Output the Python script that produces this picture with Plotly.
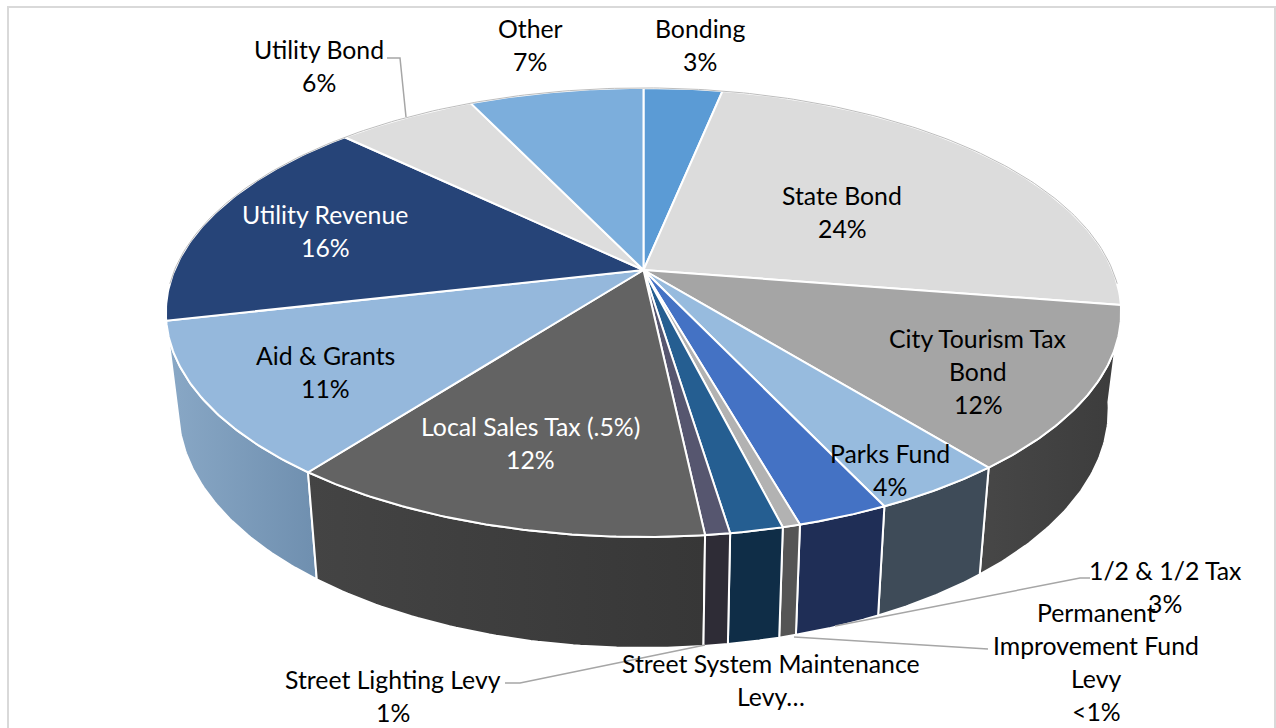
import numpy as np
import plotly.graph_objects as go

categories = ["Bonding", "State Bond", "City Tourism Tax Bond", "Parks Fund", "1/2 & 1/2 Tax",
              "Permanent Improvement Fund Levy", "Street System Maintenance Levy", "Street Lighting Levy",
              "Local Sales Tax (.5%)", "Aid & Grants", "Utility Revenue", "Utility Bond", "Other"]
values = [3.2, 24.3, 11.7, 3.8, 2.6, 0.5, 1.5, 0.7, 12.1, 11.0, 15.8, 5.7, 7.1]
top_colors = ["#5B9BD5", "#DCDCDC", "#A5A5A5", "#97BBDE", "#4472C4", "#B2B2B2", "#255E91",
              "#56566F", "#636363", "#95B8DC", "#264478", "#DDDDDD", "#7CAEDC"]
side_colors = [("#3F6F9A", "#3F6F9A"), ("#6E6E6E", "#6E6E6E"), ("#474747", "#3C3C3C"), ("#3E4B58", "#3E4B58"),
               ("#1F2E56", "#1F2E56"), ("#555555", "#555555"), ("#0F2D47", "#0F2D47"), ("#2E2C36", "#2E2C36"),
               ("#444444", "#373737"), ("#89A8C6", "#6F8FAF"), ("#1B3157", "#1B3157"), ("#9E9E9E", "#9E9E9E"),
               ("#587EA0", "#587EA0")]

label_lines = [(["Bonding", "3%"], 700, 28, "black"), (["Other", "7%"], 530, 28, "black"),
               (["Utility Bond", "6%"], 319, 49, "black"), (["State Bond", "24%"], 842, 195, "black"),
               (["City Tourism Tax", "Bond", "12%"], 978, 338, "black"), (["Parks Fund", "4%"], 890, 453, "black"),
               (["Local Sales Tax (.5%)", "12%"], 530, 426, "white"), (["Aid & Grants", "11%"], 325, 355, "black"),
               (["Utility Revenue", "16%"], 325, 214, "white"), (["Street Lighting Levy", "1%"], 393, 679, "black"),
               (["Street System Maintenance", "Levy…"], 771, 663, "black"), (["1/2 & 1/2 Tax", "3%"], 1165, 570, "black"),
               (["Permanent", "Improvement Fund", "Levy", "&lt;1%"], 1096, 612, "black")]
leaders = [([387, 400, 406], [58, 58, 117]), ([505, 520, 705], [683, 683, 645]),
           ([1090, 1080, 835], [578, 578, 626]), ([794, 988], [637, 649])]

# Projection of the tilted disc
CX, CY, A, B, K = 643.5, 270.0, 469.0, 216.5, 0.189
DEPTH, SX, SY = 95.0, 0.974, 1.06
LINE_STEP = 33

def top(theta):
    u, v = np.sin(theta), -np.cos(theta)
    w = 1 - K * v
    return CX + A * u / w, CY + B * v / w

def bottom(theta):
    x, y = top(theta)
    return CX + (x - CX) * SX, CY + DEPTH + (y - CY) * SY

fractions = np.cumsum([0] + values) / sum(values) * 2 * np.pi
fig = go.Figure()

# Sides first
order = sorted(range(len(values)), key=lambda i: abs(np.pi - (fractions[i] + fractions[i + 1]) / 2), reverse=True)
for i in order:
    t = np.linspace(fractions[i], fractions[i + 1], 60)
    xt, yt = top(t)
    xb, yb = bottom(t)
    c1, c2 = side_colors[i]
    x = np.r_[xt, xb[::-1], xt[0]]
    y = np.r_[yt, yb[::-1], yt[0]]
    kw = dict(fillgradient=dict(type="horizontal", colorscale=[[0, c1], [1, c2]])) if c1 != c2 else dict(fillcolor=c1)
    fig.add_trace(go.Scatter(x=x, y=y, mode="lines", fill="toself", line=dict(color="white", width=2),
                             hoverinfo="skip", showlegend=False, **kw))

# Top face
for i in range(len(values)):
    t = np.linspace(fractions[i], fractions[i + 1], 80)
    xt, yt = top(t)
    fig.add_trace(go.Scatter(x=np.r_[CX, xt, CX], y=np.r_[CY, yt, CY], mode="lines", fill="toself",
                             fillcolor=top_colors[i], line=dict(color="white", width=2),
                             hoverinfo="skip", showlegend=False, name=categories[i]))

# Fine rim along the back
t = np.linspace(-np.pi * 0.52, np.pi * 0.52, 200)
xt, yt = top(t)
fig.add_trace(go.Scatter(x=xt, y=yt, mode="lines", line=dict(color="#BDBDBD", width=1),
                         hoverinfo="skip", showlegend=False))

for lx, ly in leaders:
    fig.add_trace(go.Scatter(x=lx, y=ly, mode="lines", line=dict(color="#A6A6A6", width=1.5),
                             hoverinfo="skip", showlegend=False))

for lines, x, y, col in label_lines:
    for n, text in enumerate(lines):
        fig.add_annotation(x=x, y=y + n * LINE_STEP, text=text, showarrow=False, xanchor="center", yanchor="middle",
                           font=dict(family="Lato", size=24.8, color=col))

fig.add_shape(type="rect", xref="paper", yref="paper", x0=8 / 1276, x1=1275 / 1276, y0=-0.05, y1=1 - 7 / 728,
              line=dict(color="#D9D9D9", width=2))
fig.update_layout(width=1276, height=728, margin=dict(l=0, r=0, t=0, b=0), paper_bgcolor="white",
                  plot_bgcolor="white", showlegend=False,
                  xaxis=dict(range=[0, 1276], visible=False, fixedrange=True),
                  yaxis=dict(range=[728, 0], visible=False, fixedrange=True))
fig.write_html("out.html", config=dict(displayModeBar=False),
               post_script="document.body.style.margin='0';document.body.style.overflow='hidden';")
